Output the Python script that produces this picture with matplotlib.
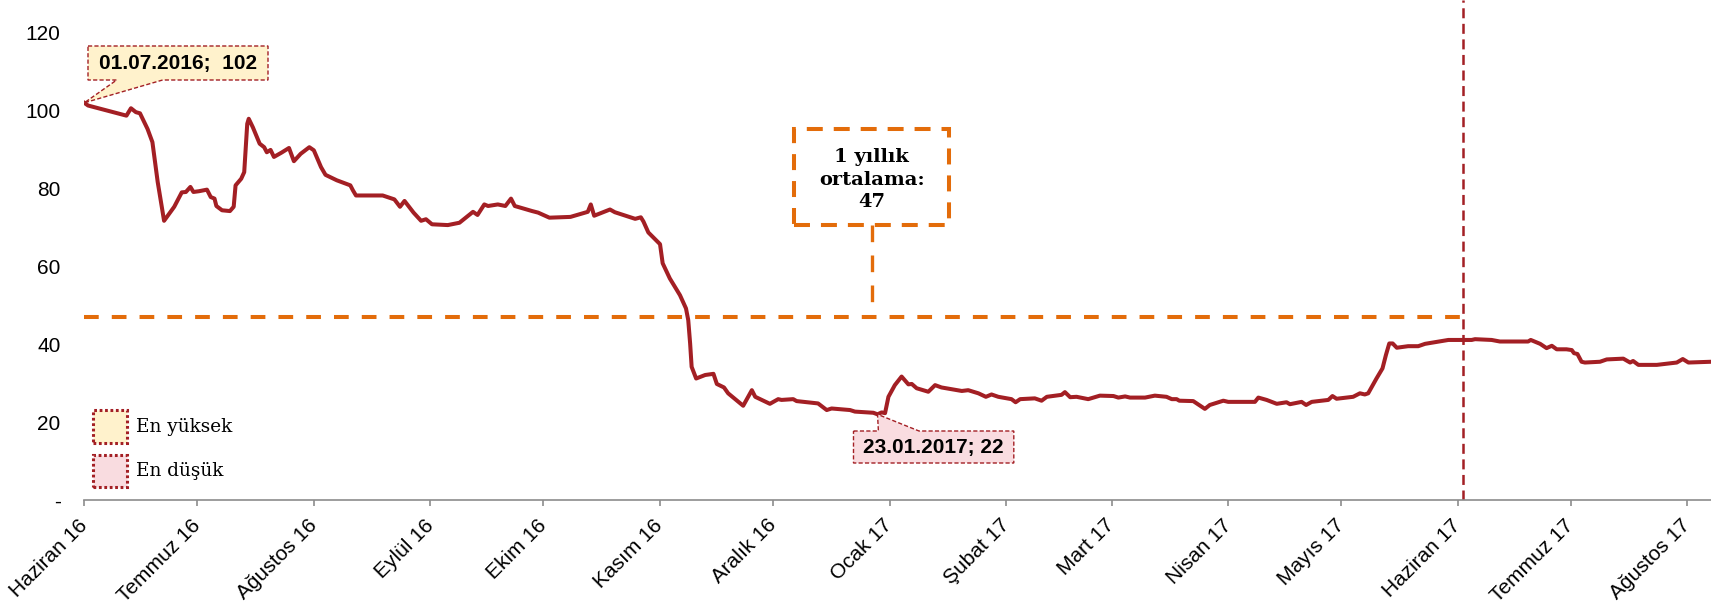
import matplotlib
matplotlib.use('Agg')
import matplotlib.pyplot as plt
import matplotlib.dates as mdates
from matplotlib.patches import Rectangle, Polygon
from matplotlib.lines import Line2D
from matplotlib.transforms import IdentityTransform
import pandas as pd
import numpy as np

plt.rcParams['lines.scale_dashes'] = False

# ---------------- data ----------------
start_date = '2016-06-01'
x_end_days = 432.3
day_offsets = [0, 1, 11.2, 12.4, 13.7, 14.8, 16.8, 18.1, 18.8, 19.5, 21.2, 23.9, 25.9, 27.0, 28.2,
               29.0, 30.5, 32.6, 33.6, 34.6, 35.1, 36.6, 38.7, 39.7, 40.2, 41.7, 42.5, 43.3, 43.7,
               44.8, 46.6, 47.8, 48.5, 49.5, 50.4, 52.4, 54.4, 55.7, 57.5, 59.8, 61.0, 62.9, 64.1,
               67.1, 70.7, 71.4, 72.2, 79.3, 82.4, 83.9, 85.1, 87.5, 89.5, 90.8, 92.4, 96.6, 99.7,
               103.3, 104.5, 106.3, 107.3, 109.9, 111.9, 113.4, 114.4, 119.0, 120.6, 123.6, 129.2,
               133.8, 134.6, 135.5, 139.7, 141.0, 146.4, 147.9, 148.6, 149.9, 153.0, 153.7, 155.6,
               158.3, 159.9, 160.5, 161.0, 161.4, 162.6, 165.0, 167.2, 168.1, 170.0, 171.1, 175.1,
               177.4, 178.3, 182.2, 184.4, 185.3, 188.4, 189.3, 195.0, 197.3, 198.6, 203.5, 204.8,
               209.7, 210.8, 211.9, 212.8, 213.7, 215.4, 217.2, 219.0, 219.9, 221.2, 224.3, 226.1,
               227.8, 233.2, 234.9, 237.6, 239.6, 241.1, 242.9, 246.4, 247.5, 248.7, 252.6, 254.4,
               255.8, 259.7, 260.6, 262.0, 263.7, 266.8, 269.9, 273.5, 274.8, 276.6, 277.9, 281.9,
               284.5, 287.6, 289.0, 290.3, 291.0, 294.7, 297.8, 299.1, 302.7, 304.0, 311.1, 312.0,
               314.2, 316.9, 319.5, 320.4, 323.5, 324.7, 326.2, 330.6, 331.7, 332.8, 337.2, 339.0,
               340.3, 341.2, 343.4, 345.0, 345.9, 346.8, 347.7, 348.8, 351.8, 354.5, 356.3, 359.4,
               362.5, 368.7, 369.6, 374.0, 376.2, 383.7, 384.4, 386.9, 388.6, 390.0, 391.3, 393.9,
               395.3, 395.9, 396.8, 397.9, 398.8, 402.8, 404.6, 409.0, 410.8, 411.6, 413.0, 417.9,
               423.2, 424.8, 426.3, 432.3]
values = [102.0, 101.3, 98.7, 100.6, 99.6, 99.3, 95.3, 91.9, 86.8, 81.7, 71.7, 75.3, 79.0, 79.1, 80.4,
          79.1, 79.3, 79.7, 77.8, 77.4, 75.5, 74.4, 74.2, 75.3, 80.8, 82.5, 84.2, 96.6, 97.9,
          95.7, 91.5, 90.6, 89.3, 89.9, 88.1, 89.2, 90.4, 87.0, 88.9, 90.6, 89.8, 85.5, 83.5,
          82.1, 80.8, 79.5, 78.2, 78.2, 77.2, 75.3, 76.8, 73.8, 71.7, 72.1, 70.8, 70.6, 71.2,
          74.0, 73.2, 75.9, 75.5, 75.9, 75.5, 77.4, 75.5, 74.2, 73.8, 72.5, 72.7,
          74.0, 75.9, 73.0, 74.6, 73.9, 72.2, 72.6, 71.5, 68.7, 65.7, 60.8, 56.9,
          52.6, 49.2, 46.2, 40.2, 34.2, 31.2, 32.1, 32.4, 29.8, 28.9, 27.4, 24.2,
          28.2, 26.5, 24.7, 25.9, 25.7, 25.9, 25.4, 24.8, 23.1, 23.5, 23.1, 22.7,
          22.4, 22.0, 22.5, 22.3, 26.5, 29.5, 31.7, 29.7, 29.8, 28.7, 27.8, 29.5,
          28.9, 28.0, 28.2, 27.4, 26.5, 27.1, 26.5, 25.9, 25.1, 25.9, 26.1, 25.5,
          26.5, 27.0, 27.7, 26.4, 26.5, 25.9, 26.8, 26.7, 26.3, 26.6, 26.3, 26.3,
          26.8, 26.5, 25.9, 25.9, 25.5, 25.4, 23.4, 24.4, 25.5, 25.2, 25.2, 26.3,
          25.7, 24.7, 25.1, 24.6, 25.2, 24.4, 25.2, 25.7, 26.7, 26.0, 26.5, 27.4,
          27.1, 27.4, 31.2, 33.8, 37.2, 40.2, 40.2, 39.1, 39.5, 39.5, 40.1, 40.6,
          41.1, 41.1, 41.3, 41.1, 40.7, 40.7, 41.1, 40.1, 39.0, 39.6, 38.7, 38.7,
          38.5, 37.7, 37.5, 35.5, 35.3, 35.5, 36.1, 36.3, 35.3, 35.7, 34.7, 34.7,
          35.3, 36.2, 35.3, 35.5]

month_labels = ['Haziran 16', 'Temmuz 16', 'Ağustos 16', 'Eylül 16', 'Ekim 16', 'Kasım 16',
                'Aralık 16', 'Ocak 17', 'Şubat 17', 'Mart 17', 'Nisan 17', 'Mayıs 17',
                'Haziran 17', 'Temmuz 17', 'Ağustos 17']
y_ticks = [0, 20, 40, 60, 80, 100, 120]
y_tick_labels = ['-', '20', '40', '60', '80', '100', '120']

avg_value = 47
avg_label = '1 yıllık\nortalama:\n47'
one_year_mark = '2017-06-02 12:00'
high_label = '01.07.2016;  102'
low_label = '23.01.2017; 22'
legend_labels = ['En yüksek', 'En düşük']

# ---------------- styles ----------------
RED = '#A31F24'
ORANGE = '#E36C0A'
CREAM = '#FFF2CC'
PINK = '#F9DCE0'
GRAY = '#8C8C8C'

W, H = 1711, 607
fig = plt.figure(figsize=(W / 100, H / 100), dpi=100)
ax = fig.add_axes([84.3 / W, (H - 500) / H, 1 - 84.3 / W, 500 / H])

start = pd.Timestamp(start_date)
dates = start + pd.to_timedelta(day_offsets, unit='D')
ax.plot(dates, values, color=RED, lw=2.9, solid_joinstyle='round', zorder=3)

ax.set_xlim(start, start + pd.Timedelta(days=x_end_days))
ax.set_ylim(0, 128.4)

# average line up to one-year mark
vdate = pd.Timestamp(one_year_mark)
ax.plot([start, vdate], [avg_value, avg_value], color=ORANGE, lw=2.9,
        dashes=(10.6, 9.4), dash_capstyle='butt', zorder=2)
ax.axvline(vdate, color=RED, lw=1.8, dashes=(7.2, 4.0), zorder=2)

# axes styling
for s in ['top', 'right', 'left']:
    ax.spines[s].set_visible(False)
ax.spines['bottom'].set_color(GRAY)
ax.spines['bottom'].set_linewidth(1.2)

month_ticks = pd.date_range(start, periods=len(month_labels), freq='MS')
ax.set_xticks(month_ticks)
ax.set_xticklabels(month_labels, rotation=45, ha='right', va='center',
                   rotation_mode='anchor', family='Liberation Sans', fontsize=15)
ax.tick_params(axis='x', length=4, width=1.2, color=GRAY, pad=12)
ax.set_yticks(y_ticks)
ax.set_yticklabels(y_tick_labels, family='Liberation Sans', fontsize=15)
ax.tick_params(axis='y', length=0, pad=17)

# ---------------- annotations (pixel layout) ----------------
fig.canvas.draw()
ID = IdentityTransform()

def P(x, ytop):
    return (x, H - ytop)

def data_px(d, v):
    return tuple(ax.transData.transform((mdates.date2num(d), v)))

# orange average box
ob = (794.3, 129, 949, 224.7)
fig.add_artist(Rectangle(P(ob[0], ob[3]), ob[2] - ob[0], ob[3] - ob[1], transform=ID,
                         fill=False, ec=ORANGE, lw=2.9, linestyle=(0, (11.5, 7.9)), zorder=5))
cx = (ob[0] + ob[2]) / 2
avg_px = data_px(start, avg_value)[1]
fig.add_artist(Line2D([cx, cx], [H - ob[3], avg_px], transform=ID, color=ORANGE, lw=2.4,
                      dashes=(12, 9.6), zorder=5))
fig.text(cx / W, 1 - 179.7 / H, avg_label, ha='center', va='center', family='DejaVu Serif',
         weight='bold', fontsize=14, linespacing=1.32, zorder=6)

# high callout
imax = int(np.argmax(values))
tip = data_px(dates[imax], values[imax])
b = (88, 46, 268, 80)
verts = [P(b[0], b[1]), P(b[2], b[1]), P(b[2], b[3]), P(162.6, b[3]), tip, P(116.7, b[3]), P(b[0], b[3])]
fig.add_artist(Polygon(verts, closed=True, transform=ID, fc=CREAM, ec=RED, lw=1.0,
                       linestyle=(0, (3, 1.6)), zorder=5))
fig.text(((b[0] + b[2]) / 2) / W, 1 - ((b[1] + b[3]) / 2) / H, high_label, ha='center',
         va='center', family='Liberation Sans', weight='bold', fontsize=15, zorder=6)

# low callout
imin = int(np.argmin(values))
tip2 = data_px(dates[imin], values[imin])
b2 = (853.5, 431, 1013.8, 463)
verts2 = [P(b2[0], b2[1]), P(878.4, b2[1]), tip2, P(919, b2[1]), P(b2[2], b2[1]),
          P(b2[2], b2[3]), P(b2[0], b2[3])]
fig.add_artist(Polygon(verts2, closed=True, transform=ID, fc=PINK, ec=RED, lw=1.0,
                       linestyle=(0, (3, 1.6)), zorder=5))
fig.text(((b2[0] + b2[2]) / 2) / W, 1 - ((b2[1] + b2[3]) / 2) / H, low_label, ha='center',
         va='center', family='Liberation Sans', weight='bold', fontsize=15, zorder=6)

# legend
for (top, bot), fc, lab in zip([(410, 443), (455, 487)], [CREAM, PINK], legend_labels):
    fig.add_artist(Rectangle(P(92.7, bot), 34, bot - top, transform=ID, fc=fc, ec=RED, lw=2.2,
                             linestyle=(0, (2.0, 1.9)), zorder=5))
    fig.text(136 / W, 1 - ((top + bot) / 2) / H, lab, ha='left', va='center',
             family='DejaVu Serif', fontsize=13.3, zorder=6)

fig.savefig('out.png', dpi=100)
